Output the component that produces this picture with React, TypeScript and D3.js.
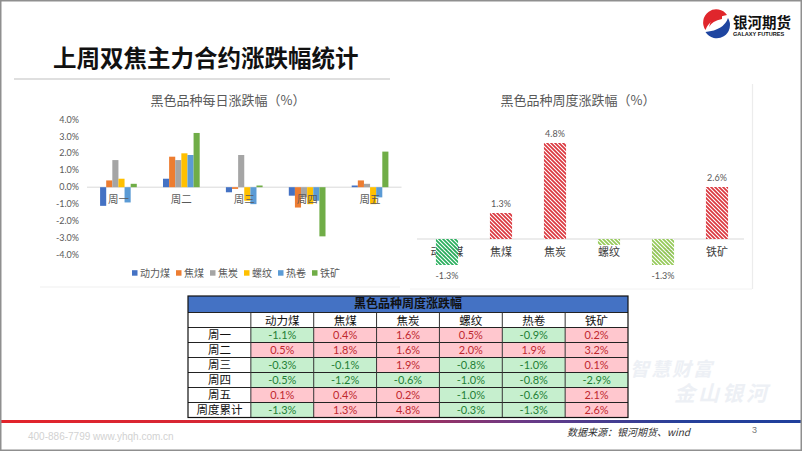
import React from 'react';
import * as d3 from 'd3';

const days = ['周一', '周二', '周三', '周四', '周五'];
const products = ['动力煤', '焦煤', '焦炭', '螺纹', '热卷', '铁矿'];
const dongLiMei = [-1.1, 0.5, -0.3, -0.5, 0.1];
const jiaoMei = [0.4, 1.8, -0.1, -1.2, 0.4];
const jiaoTan = [1.6, 1.6, 1.9, -0.6, 0.2];
const luoWen = [0.5, 2.0, -0.8, -1.0, -1.0];
const reJuan = [-0.9, 1.9, -1.0, -0.8, -0.6];
const tieKuang = [0.2, 3.2, 0.1, -2.9, 2.1];
const weeklyChange = [-1.3, 1.3, 4.8, -0.3, -1.3, 2.6];
const dailyTicks = [-4, -3, -2, -1, 0, 1, 2, 3, 4];
const weeklyLabelShown = [true, true, true, false, true, true];
const totalRowLabel = '周度累计';

const seriesValues = [dongLiMei, jiaoMei, jiaoTan, luoWen, reJuan, tieKuang];
const seriesColors = ['#4472c4', '#ed7d31', '#a5a5a5', '#ffc000', '#5b9bd5', '#70ad47'];
const weeklyHatch = ['hG', 'hR', 'hR', 'hL', 'hL', 'hR'];

const CJK = "'Noto Sans CJK SC', 'Noto Sans', sans-serif";
const NUM = "Lato, 'Noto Sans CJK SC', sans-serif";

export default function App() {
  // left chart
  const x0 = d3.scaleBand<string>().domain(days).range([87, 401.5]).paddingInner(0.4165).paddingOuter(0.208);
  const x1 = d3.scaleBand<string>().domain(products).range([0, x0.bandwidth()]);
  const yL = d3.scaleLinear().domain([-4, 4]).range([255, 119.4]);

  // legend layout
  const legendItems = products.map((p) => ({ p, w: 8 + p.length * 10 + 6 }));
  const legendTotal = d3.sum(legendItems, (d) => d.w) - 6;
  let lx = 236 - legendTotal / 2;
  const legendPos = legendItems.map((d) => {
    const x = lx;
    lx += d.w;
    return x;
  });

  // right chart
  const xR = d3.scaleBand<string>().domain(products).range([420, 744]).paddingInner(0.59).paddingOuter(0.295);
  const yR = d3.scaleLinear().domain([-2, 5]).range([279, 139]);

  // table
  const tX = 188;
  const colW = (628 - 188) / 7;
  const titleTop = 296;
  const titleH = 16.5;
  const rowH = 15;
  const headerTop = titleTop + titleH;
  const rows = [...days, totalRowLabel];
  const rowVals = [
    ...days.map((_, i) => seriesValues.map((s) => s[i])),
    weeklyChange,
  ];
  const tableBottom = headerTop + rowH * (rows.length + 1);

  return (
    <svg width={802} height={451} style={{ position: 'absolute', left: 0, top: 0, background: '#fff' }}>
      <defs>
        <pattern id="hR" width="4" height="4" patternUnits="userSpaceOnUse">
          <rect width="4" height="4" fill="#fff" />
          <path d="M-1,-1 L5,5 M-1,3 L1,5 M3,-1 L5,1" stroke="#d8262d" strokeWidth="1.7" />
        </pattern>
        <pattern id="hG" width="4" height="4" patternUnits="userSpaceOnUse">
          <rect width="4" height="4" fill="#fff" />
          <path d="M-1,-1 L5,5 M-1,3 L1,5 M3,-1 L5,1" stroke="#17a84f" strokeWidth="1.7" />
        </pattern>
        <pattern id="hL" width="4" height="4" patternUnits="userSpaceOnUse">
          <rect width="4" height="4" fill="#fff" />
          <path d="M-1,-1 L5,5 M-1,3 L1,5 M3,-1 L5,1" stroke="#8cc54a" strokeWidth="1.7" />
        </pattern>
        <linearGradient id="footGrad" x1="0" x2="1" y1="0" y2="0">
          <stop offset="0%" stopColor="#e2242b" />
          <stop offset="40%" stopColor="#d0283a" />
          <stop offset="65%" stopColor="#6c3a86" />
          <stop offset="85%" stopColor="#27409a" />
          <stop offset="100%" stopColor="#1f3f9c" />
        </linearGradient>
      </defs>

      <rect x={0} y={0} width={802} height={451} fill="#fff" />

      {/* header */}
      <text x={53} y={67} fontFamily={CJK} fontWeight={700} fontSize={23.5} fill="#111">
        上周双焦主力合约涨跌幅统计
      </text>
      <line x1={14} x2={390} y1={79} y2={79} stroke="#d4d4d4" strokeWidth={1.5} />

      {/* logo */}
      <g>
        <path d="M727,15 A11.5,11.5 0 0 0 705.5,30 Q709,19 727,15 Z" fill="#e0262c" />
        <path d="M705.5,32 A11.5,11.5 0 0 0 728,18 Q724,30 705.5,32 Z" fill="#1e45a0" />
        <path d="M722,13 Q711,16 709,27 Q712,21 722,19 Z" fill="#e0262c" />
        <text x={733} y={28} fontFamily={CJK} fontWeight={700} fontSize={14.5} fill="#111">银河期货</text>
        <text x={733} y={36} fontFamily="'Liberation Sans', sans-serif" fontWeight={700} fontSize={5.6} fill="#111">GALAXY FUTURES</text>
      </g>

      {/* left chart */}
      <text x={228} y={105} textAnchor="middle" fontFamily={CJK} fontSize={13} fill="#595959">
        黑色品种每日涨跌幅（%）
      </text>
      {dailyTicks.map((t) => (
        <text key={t} x={79} y={yL(t)} dy="0.35em" textAnchor="end" fontFamily={NUM} fontSize={9} fill="#595959">
          {t.toFixed(1) + '%'}
        </text>
      ))}
      <line x1={87} x2={401.5} y1={yL(0)} y2={yL(0)} stroke="#d9d9d9" strokeWidth={1} />
      {days.map((d, di) => (
        <g key={d} transform={`translate(${x0(d)},0)`}>
          {products.map((p, pi) => {
            const v = seriesValues[pi][di];
            return (
              <rect
                key={p}
                x={x1(p)}
                width={x1.bandwidth()}
                y={Math.min(yL(v), yL(0))}
                height={Math.abs(yL(v) - yL(0))}
                fill={seriesColors[pi]}
              />
            );
          })}
        </g>
      ))}
      {days.map((d) => (
        <text key={d} x={x0(d)! + x0.bandwidth() / 2} y={199} dy="0.35em" textAnchor="middle" fontFamily={CJK} fontSize={10.5} fill="#595959">
          {d}
        </text>
      ))}
      {products.map((p, i) => (
        <g key={p} transform={`translate(${legendPos[i]},273)`}>
          <rect x={0} y={-2.8} width={5.5} height={5.5} fill={seriesColors[i]} />
          <text x={8} y={0} dy="0.35em" fontFamily={CJK} fontSize={10} fill="#595959">{p}</text>
        </g>
      ))}
      <line x1={40} x2={400} y1={287} y2={287} stroke="#efefef" strokeWidth={1} />

      {/* right chart */}
      <text x={578} y={105} textAnchor="middle" fontFamily={CJK} fontSize={13} fill="#595959">
        黑色品种周度涨跌幅（%）
      </text>
      <line x1={417} x2={744} y1={yR(0)} y2={yR(0)} stroke="#d9d9d9" strokeWidth={1} />
      {products.map((p) => (
        <text key={p} x={xR(p)! + xR.bandwidth() / 2} y={252.5} dy="0.35em" textAnchor="middle" fontFamily={CJK} fontSize={11} fill="#404040">
          {p}
        </text>
      ))}
      {products.map((p, i) => {
        const v = weeklyChange[i];
        return (
          <rect
            key={p}
            x={xR(p)}
            width={xR.bandwidth()}
            y={Math.min(yR(v), yR(0))}
            height={Math.abs(yR(v) - yR(0))}
            fill={`url(#${weeklyHatch[i]})`}
            opacity={0.92}
          />
        );
      })}
      {products.map((p, i) => {
        const v = weeklyChange[i];
        if (!weeklyLabelShown[i]) return null;
        const y = v >= 0 ? yR(v) - 9 : yR(v) + 10.5;
        return (
          <text key={p} x={xR(p)! + xR.bandwidth() / 2} y={y} dy="0.35em" textAnchor="middle" fontFamily={NUM} fontSize={9} fill="#595959">
            {v.toFixed(1) + '%'}
          </text>
        );
      })}
      <line x1={752.5} x2={752.5} y1={84} y2={289} stroke="#ececec" strokeWidth={1.2} />
      <line x1={410} x2={752} y1={289} y2={289} stroke="#f2f2f2" strokeWidth={1} />

      {/* watermark */}
      <text x={630} y={376} fontFamily={CJK} fontWeight={700} fontSize={19} fill="#edf0f5" fontStyle="italic" letterSpacing={2}>智慧财富</text>
      <text x={674} y={401} fontFamily={CJK} fontWeight={700} fontSize={21} fill="#edf0f5" fontStyle="italic" letterSpacing={3}>金山银河</text>

      {/* table */}
      <rect x={tX} y={titleTop} width={colW * 7} height={titleH} fill="#4472c4" />
      <text x={tX + (colW * 7) / 2} y={titleTop + titleH / 2 - 0.5} dy="0.36em" textAnchor="middle" fontFamily={CJK} fontWeight={700} fontSize={12} fill="#111">
        黑色品种周度涨跌幅
      </text>
      {products.map((p, i) => (
        <text key={p} x={tX + colW * (i + 1.5)} y={headerTop + rowH / 2 + 0.5} dy="0.36em" textAnchor="middle" fontFamily={CJK} fontSize={11.5} fill="#111">
          {p}
        </text>
      ))}
      {rows.map((r, ri) => {
        const y = headerTop + rowH * (ri + 1);
        return (
          <g key={r}>
            <text x={tX + colW / 2} y={y + rowH / 2} dy="0.36em" textAnchor="middle" fontFamily={CJK} fontSize={11.5} fill="#111">
              {r}
            </text>
            {rowVals[ri].map((v, ci) => {
              const pos = v > 0;
              return (
                <g key={ci}>
                  <rect x={tX + colW * (ci + 1)} y={y} width={colW} height={rowH} fill={pos ? '#ffc7ce' : '#c6efce'} />
                  <text x={tX + colW * (ci + 1.5)} y={y + rowH / 2} dy="0.36em" textAnchor="middle" fontFamily={NUM} fontSize={11} fill={pos ? '#c0282e' : '#1f7f35'}>
                    {v.toFixed(1) + '%'}
                  </text>
                </g>
              );
            })}
          </g>
        );
      })}
      {d3.range(rows.length + 2).map((i) => (
        <line key={'h' + i} x1={tX} x2={tX + colW * 7} y1={headerTop + rowH * i} y2={headerTop + rowH * i} stroke="#222" strokeWidth={1} />
      ))}
      {d3.range(1, 7).map((i) => (
        <line key={'v' + i} x1={tX + colW * i} x2={tX + colW * i} y1={headerTop} y2={tableBottom} stroke="#333" strokeWidth={1} />
      ))}
      <rect x={tX} y={titleTop} width={colW * 7} height={tableBottom - titleTop} fill="none" stroke="#111" strokeWidth={1.2} />

      {/* footer */}
      <rect x={0} y={420} width={802} height={3} fill="url(#footGrad)" />
      <text x={28} y={440} fontFamily="'Liberation Sans', sans-serif" fontSize={10} fill="#d2d2d2">400-886-7799 www.yhqh.com.cn</text>
      <text x={567} y={436} fontFamily={CJK} fontSize={10} fontStyle="italic" fill="#333">数据来源：银河期货、wind</text>
      <text x={752} y={433} fontFamily="'Liberation Sans', sans-serif" fontSize={9} fill="#777">3</text>

      {/* slide frame */}
      <rect x={0.75} y={0.75} width={800.5} height={449.5} fill="none" stroke="#8f8f8f" strokeWidth={1.5} />
    </svg>
  );
}
